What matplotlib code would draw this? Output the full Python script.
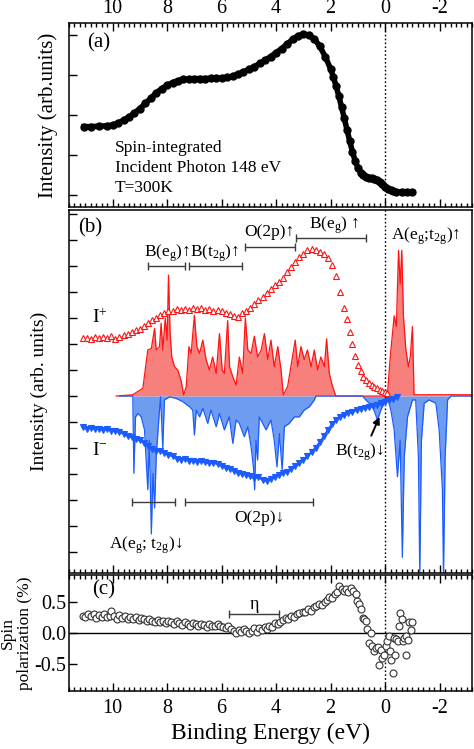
import numpy as np
import matplotlib
matplotlib.use('Agg')
import matplotlib.pyplot as plt
from matplotlib.ticker import MultipleLocator

plt.rcParams['font.family'] = ['Liberation Serif', 'DejaVu Serif']
plt.rcParams['mathtext.fontset'] = 'custom'
plt.rcParams['mathtext.rm'] = 'Liberation Serif'
plt.rcParams['mathtext.it'] = 'Liberation Serif:italic'
plt.rcParams['axes.unicode_minus'] = False

# ---- panel (a): spin-integrated spectrum
e_a = [11.05, 10.8, 10.5, 10.2, 10.0, 9.8, 9.6, 9.4, 9.2, 9.0, 8.8, 8.6, 8.4, 8.2, 8.0,
       7.8, 7.6, 7.4, 7.2, 7.0, 6.8, 6.6, 6.4, 6.2, 6.0, 5.8, 5.6, 5.4, 5.2, 5.0,
       4.8, 4.6, 4.4, 4.2, 4.0, 3.8, 3.6, 3.4, 3.2, 3.0, 2.8, 2.6, 2.4, 2.2, 2.0,
       1.9, 1.8, 1.7, 1.6, 1.5, 1.4, 1.3, 1.2, 1.1, 1.0, 0.9, 0.8, 0.7, 0.6, 0.5,
       0.4, 0.3, 0.2, 0.1, 0.0, -0.1, -0.2, -0.3, -0.4, -0.6, -0.8, -1.0]
i_a = [1.71, 1.71, 1.72, 1.73, 1.75, 1.80, 1.87, 1.95, 2.05, 2.16, 2.29, 2.42, 2.55, 2.66, 2.74,
       2.81, 2.86, 2.89, 2.90, 2.91, 2.91, 2.91, 2.92, 2.92, 2.93, 2.94, 2.97, 3.02, 3.08, 3.14,
       3.21, 3.29, 3.37, 3.46, 3.56, 3.66, 3.77, 3.89, 3.98, 4.02, 4.00, 3.90, 3.72, 3.46, 3.15,
       2.95, 2.72, 2.47, 2.20, 1.92, 1.63, 1.35, 1.08, 0.85, 0.68, 0.56, 0.49, 0.45, 0.43, 0.42,
       0.41, 0.38, 0.33, 0.27, 0.21, 0.16, 0.12, 0.09, 0.08, 0.07, 0.07, 0.07]

# ---- panel (b): spin-resolved spectra I+ / I-
e_up = [11.10, 10.95, 10.80, 10.65, 10.50, 10.35, 10.20, 10.05, 9.90, 9.75, 9.60, 9.45, 9.30,
        9.15, 9.00, 8.85, 8.70, 8.55, 8.40, 8.25, 8.10, 7.95, 7.80, 7.65, 7.50, 7.35, 7.20,
        7.05, 6.90, 6.75, 6.60, 6.45, 6.30, 6.15, 6.00, 5.85, 5.70, 5.55, 5.40, 5.25, 5.10,
        4.95, 4.80, 4.65, 4.50, 4.35, 4.20, 4.05, 3.90, 3.75, 3.60, 3.45, 3.30, 3.15, 3.00,
        2.85, 2.70, 2.55, 2.40, 2.25, 2.10, 1.95, 1.80, 1.65, 1.50, 1.40, 1.30, 1.20, 1.10,
        1.00, 0.90, 0.80, 0.70, 0.60, 0.50, 0.40, 0.30, 0.20, 0.10, 0.00, -0.08]
i_up = [2.22, 2.25, 2.20, 2.26, 2.22, 2.28, 2.24, 2.30, 2.20, 2.27, 2.35, 2.38, 2.45,
        2.52, 2.58, 2.68, 2.80, 2.92, 3.00, 3.10, 3.18, 3.25, 3.28, 3.33, 3.30, 3.36, 3.32,
        3.40, 3.35, 3.38, 3.32, 3.35, 3.28, 3.30, 3.25, 3.20, 3.15, 3.08, 3.05, 3.18, 3.25,
        3.40, 3.55, 3.68, 3.82, 3.95, 4.10, 4.25, 4.40, 4.55, 4.75, 4.95, 5.15, 5.35, 5.45,
        5.60, 5.65, 5.62, 5.55, 5.45, 5.30, 5.05, 4.60, 4.00, 3.40, 2.95, 2.45, 2.00, 1.55,
        1.20, 0.95, 0.75, 0.60, 0.50, 0.42, 0.35, 0.30, 0.25, 0.20, 0.15, 0.12]

e_dn = [11.10, 10.95, 10.80, 10.65, 10.50, 10.35, 10.20, 10.05, 9.90, 9.75, 9.60, 9.45, 9.30,
        9.15, 9.00, 8.85, 8.70, 8.55, 8.40, 8.25, 8.10, 7.95, 7.80, 7.65, 7.50, 7.35, 7.20,
        7.05, 6.90, 6.75, 6.60, 6.45, 6.30, 6.15, 6.00, 5.85, 5.70, 5.55, 5.40, 5.25, 5.10,
        4.95, 4.80, 4.65, 4.50, 4.35, 4.20, 4.05, 3.90, 3.75, 3.60, 3.45, 3.30, 3.15, 3.00,
        2.85, 2.70, 2.55, 2.40, 2.25, 2.10, 1.95, 1.80, 1.65, 1.50, 1.35, 1.20, 1.05, 0.90,
        0.75, 0.60, 0.45, 0.30, 0.15, 0.00, -0.15, -0.30, -0.45]
i_dn = [-1.20, -1.25, -1.22, -1.28, -1.25, -1.30, -1.28, -1.33, -1.35, -1.38, -1.45, -1.52, -1.58,
        -1.65, -1.70, -1.80, -1.92, -2.05, -2.12, -2.10, -2.18, -2.25, -2.32, -2.40, -2.45, -2.42, -2.48,
        -2.50, -2.52, -2.50, -2.55, -2.58, -2.56, -2.62, -2.68, -2.75, -2.80, -2.88, -2.95, -3.00, -3.02,
        -3.08, -3.15, -3.12, -3.22, -3.25, -3.18, -3.10, -3.05, -2.95, -2.90, -2.80, -2.70, -2.58, -2.45,
        -2.30, -2.15, -1.98, -1.78, -1.55, -1.30, -1.08, -0.92, -0.80, -0.72, -0.65, -0.60, -0.55, -0.50,
        -0.45, -0.42, -0.38, -0.33, -0.28, -0.22, -0.15, -0.10, -0.05]

# calculated DOS, spin up (positive) and spin down (negative)
e_dos_up = [9.87, 9.26, 8.89, 8.71, 8.58, 8.46, 8.40, 8.28, 8.22, 8.16, 8.07, 8.00, 7.95, 7.89,
            7.83, 7.73, 7.61, 7.49, 7.39, 7.30, 7.20, 7.12, 7.00, 6.91, 6.81, 6.69, 6.57, 6.45,
            6.33, 6.20, 6.08, 5.98, 5.90, 5.78, 5.71, 5.59, 5.47, 5.35, 5.23, 5.13, 5.04, 4.92,
            4.80, 4.68, 4.55, 4.43, 4.31, 4.19, 4.07, 3.94, 3.82, 3.74, 3.58, 3.46, 3.30, 3.21,
            3.09, 2.97, 2.85, 2.72, 2.60, 2.48, 2.36, 2.23, 2.15, 2.05, 1.93, 1.81, -0.08, -0.14,
            -0.21, -0.33, -0.41, -0.49, -0.55, -0.61, -0.67, -0.76, -0.85, -0.92, -1.00, -1.06, -3.20]
dos_up = [0.0, 0.05, 0.30, 1.77, 1.83, 2.60, 1.77, 1.90, 2.80, 1.77, 3.00, 2.15, 4.65, 2.40,
          1.50, 1.13, 1.00, 0.60, 0.04, 0.36, 1.90, 1.64, 3.10, 1.90, 1.64, 2.15, 1.40, 1.00,
          1.50, 0.87, 2.40, 1.00, 0.87, 2.90, 1.13, 0.74, 0.42, 1.50, 0.87, 3.00, 1.77, 1.64,
          2.30, 1.50, 1.77, 2.40, 1.40, 2.15, 1.13, 1.90, 1.00, 0.04, 0.36, 1.13, 2.15, 1.13,
          1.90, 1.40, 1.77, 1.13, 1.77, 1.00, 1.50, 1.13, 2.20, 0.87, 0.36, 0.0, 0.0, 0.87,
          1.77, 3.08, 2.67, 5.60, 4.30, 5.60, 3.08, 1.77, 1.13, 1.50, 2.67, 0.05, 0.05]

e_dos_dn = [9.74, 9.26, 9.22, 9.16, 9.07, 8.95, 8.83, 8.71, 8.65, 8.58, 8.52, 8.46, 8.40, 8.30,
            8.24, 8.16, 8.10, 7.91, 7.67, 7.42, 7.18, 7.06, 7.00, 6.93, 6.81, 6.69, 6.51, 6.39,
            6.20, 6.08, 5.90, 5.72, 5.59, 5.47, 5.35, 5.17, 5.04, 4.92, 4.83, 4.79, 4.74, 4.68,
            4.62, 4.37, 4.19, 4.07, 3.97, 3.88, 3.78, 3.70, 3.52, 3.33, 3.15, 2.97, 2.78, 2.60,
            2.54, 0.83, 0.71, 0.46, 0.28, 0.16, 0.04, -0.08, -0.21, -0.33, -0.45, -0.55, -0.63,
            -0.70, -0.82, -1.00, -1.12, -1.22, -1.27, -1.33, -1.43, -1.61, -1.86, -1.98, -2.10,
            -2.14, -2.20, -2.29, -2.41, -3.20]
dos_dn = [0.0, 0.0, -2.97, -0.80, -0.67, -0.80, -1.30, -3.60, -1.70, -5.30, -2.97, -4.30, -2.33, -0.80,
          -0.03, -2.00, -0.15, -0.03, -0.09, -0.22, -0.41, -0.54, -1.50, -0.54, -0.80, -0.47, -1.05, -0.54,
          -1.18, -0.67, -1.30, -0.80, -1.82, -0.92, -1.05, -1.56, -1.18, -1.95, -2.78, -3.60, -1.70, -2.46,
          -0.80, -1.30, -0.92, -1.70, -2.72, -1.44, -2.85, -1.18, -1.05, -0.80, -0.80, -0.54, -0.41, -0.15,
          0.0, 0.0, -0.15, -0.41, -0.92, -0.54, -0.28, -0.03, -0.54, -1.30, -3.10, -1.70, -6.20,
          -2.33, -0.80, -0.15, -0.15, -2.33, -6.90, -1.70, -0.28, -0.15, -0.28, -1.30, -3.60,
          -6.90, -2.33, -0.15, 0.0, 0.0]

# ---- panel (c): spin polarization
e_pol = [11.09, 11.0, 10.9, 10.8, 10.7, 10.6, 10.5, 10.4, 10.3, 10.2, 10.1, 10.05, 9.95, 9.85,
         9.75, 9.65, 9.55, 9.45, 9.35, 9.25, 9.15, 9.05, 8.95, 8.85, 8.75, 8.65, 8.55, 8.45,
         8.35, 8.25, 8.15, 8.05, 7.95, 7.85, 7.75, 7.65, 7.55, 7.45, 7.35, 7.25, 7.15, 7.05,
         6.95, 6.85, 6.75, 6.65, 6.55, 6.45, 6.35, 6.25, 6.15, 6.05, 5.95, 5.85, 5.75, 5.65,
         5.55, 5.47, 5.38, 5.28, 5.18, 5.10, 5.00, 4.90, 4.80, 4.70, 4.62, 4.52, 4.42, 4.33,
         4.25, 4.15, 4.05, 3.95, 3.85, 3.75, 3.64, 3.55, 3.45, 3.35, 3.25, 3.15, 3.03, 2.93,
         2.83, 2.73, 2.62, 2.52, 2.42, 2.32, 2.22, 2.13, 2.05, 1.95, 1.85, 1.76, 1.68, 1.60,
         1.52, 1.44, 1.36, 1.26, 1.17, 1.07, 1.02, 0.95, 0.90, 0.83, 0.77, 0.71, 0.65, 0.59,
         0.52, 0.47, 0.40, 0.34, 0.28, 0.22, 0.16, 0.10, 0.04, -0.02, -0.08, -0.14, -0.16,
         -0.22, -0.27, -0.32, -0.37, -0.40, -0.47, -0.51, -0.55, -0.60, -0.64, -0.70, -0.76,
         -0.78, -0.85, -0.87, -0.93, -0.99]
pol = [0.28, 0.25, 0.31, 0.27, 0.30, 0.24, 0.29, 0.26, 0.31, 0.25, 0.28, 0.35, 0.27, 0.22,
       0.29, 0.24, 0.27, 0.23, 0.25, 0.22, 0.26, 0.21, 0.24, 0.22, 0.19, 0.23, 0.20, 0.17,
       0.21, 0.18, 0.20, 0.16, 0.19, 0.17, 0.14, 0.19, 0.16, 0.13, 0.17, 0.15, 0.12, 0.16,
       0.14, 0.11, 0.15, 0.13, 0.10, 0.14, 0.12, 0.11, 0.14, 0.12, 0.10, 0.08, 0.11, 0.06,
       0.03, 0.00, 0.05, 0.02, 0.07, 0.03, 0.00, 0.04, 0.08, 0.02, 0.08, 0.05, 0.10, 0.07,
       0.12, 0.10, 0.16, 0.14, 0.18, 0.21, 0.24, 0.22, 0.27, 0.25, 0.30, 0.32, 0.34, 0.33,
       0.38, 0.36, 0.41, 0.43, 0.47, 0.45, 0.50, 0.53, 0.57, 0.56, 0.62, 0.66, 0.76, 0.70,
       0.68, 0.70, 0.66, 0.72, 0.68, 0.62, 0.52, 0.46, 0.39, 0.24, 0.22, 0.19, 0.06, -0.16,
       0.00, -0.21, -0.29, -0.24, -0.22, -0.52, -0.28, -0.40, -0.35, -0.21, -0.13, -0.05,
       -0.29, -0.44, -0.64, -0.08, -0.36, -0.10, -0.12, 0.12, 0.32, 0.22, -0.13, -0.08,
       -0.04, -0.36, -0.11, 0.17, 0.05, 0.17]

# annotation brackets in panel (b): (left E, right E, level)
brackets_b = [(8.71, 7.36, 5.0), (7.18, 5.25, 5.0), (5.13, 3.31, 5.74), (3.27, 0.71, 6.06),
              (9.28, 7.70, -4.06), (7.36, 2.64, -4.06)]

RED = '#ff1414'
RED_FILL = '#f7807c'
BLUE = '#1c5cff'
BLUE_FILL = '#6e9cee'
GRAY = '#3a3a3a'

fig = plt.figure(figsize=(4.74, 7.49), dpi=100)
ax_a = fig.add_axes([0.1456, 0.7236, 0.851, 0.2457])
ax_b = fig.add_axes([0.1456, 0.235, 0.851, 0.4846])
ax_c = fig.add_axes([0.1456, 0.0774, 0.851, 0.1549])

for ax in (ax_a, ax_b, ax_c):
    ax.set_xlim(11.6, -3.2)
    ax.xaxis.set_major_locator(MultipleLocator(2))
    ax.xaxis.set_minor_locator(MultipleLocator(0.2))
    ax.tick_params(which='both', direction='in', labelsize=14.5, width=1)
    ax.tick_params(which='major', length=6)
    ax.tick_params(which='minor', length=3)
    ax.axvline(0, color='k', ls=(0, (1.2, 1.6)), lw=1)
    for s in ax.spines.values():
        s.set_linewidth(1.1)

# (a)
ax_a.plot(e_a, i_a, color='k', lw=4, marker='o', ms=5)
ax_a.set_ylim(-0.3, 4.3)
ax_a.yaxis.set_major_locator(MultipleLocator(1))
ax_a.yaxis.set_minor_locator(plt.NullLocator())
ax_a.tick_params(axis='x', which='both', top=True, labeltop=True, bottom=True, labelbottom=False)
ax_a.tick_params(axis='y', left=True, labelleft=False, right=False)
ax_a.set_ylabel('Intensity (arb.units)', fontsize=15)
ax_a.yaxis.set_label_coords(-0.028, 0.5)
ax_a.text(10.92, 3.8, '(a)', fontsize=15, ha='left', va='center')
ax_a.text(9.93, 1.175, 'Spin-integrated', fontsize=12.5, ha='left', va='center')
ax_a.text(9.93, 0.675, 'Incident Photon 148 eV', fontsize=12.5, ha='left', va='center')
ax_a.text(9.93, 0.175, 'T=300K', fontsize=12.5, ha='left', va='center')

# (b)
ax_b.fill_between(e_dos_up, 0, dos_up, color=RED_FILL, lw=0)
ax_b.plot(e_dos_up, dos_up, color=RED, lw=0.9)
ax_b.fill_between(e_dos_dn, 0, dos_dn, color=BLUE_FILL, lw=0)
ax_b.plot(e_dos_dn, dos_dn, color=BLUE, lw=0.9)
ax_b.plot(e_up, i_up, ls='none', marker='^', ms=5, mfc='white', mec=RED, mew=0.8)
ax_b.plot(e_dn, i_dn, color=BLUE, lw=1.5, marker='v', ms=5, mfc=BLUE, mec=BLUE, mew=0.8)
ax_b.set_ylim(-6.8, 7.15)
ax_b.yaxis.set_major_locator(MultipleLocator(1))
ax_b.yaxis.set_minor_locator(plt.NullLocator())
ax_b.tick_params(axis='x', which='both', top=False, bottom=True, labelbottom=False)
ax_b.tick_params(axis='y', left=True, labelleft=False, right=False)
ax_b.set_ylabel('Intensity (arb. units)', fontsize=14)
ax_b.yaxis.set_label_coords(-0.052, 0.5)

for lo, hi, lev in brackets_b:
    ax_b.errorbar((lo + hi) / 2, lev, xerr=(lo - hi) / 2, color=GRAY, lw=1, capsize=3, capthick=1)

fs = 12.5
ax_b.text(11.28, 6.46, '(b)', fontsize=15, ha='left', va='center')
ax_b.text(10.77, 3.0, 'I$^{+}$', fontsize=14, ha='left', va='center')
ax_b.text(10.77, -2.08, 'I$^{-}$', fontsize=14, ha='left', va='center')
ax_b.text(8.02, 5.5, 'B(e$_\\mathrm{g}$)↑', fontsize=fs, ha='center', va='center')
ax_b.text(6.26, 5.5, 'B(t$_\\mathrm{2g}$)↑', fontsize=fs, ha='center', va='center')
ax_b.text(4.25, 6.32, 'O(2p)↑', fontsize=fs, ha='center', va='center')
ax_b.text(1.87, 6.58, 'B(e$_\\mathrm{g}$) ↑', fontsize=fs, ha='center', va='center')
ax_b.text(-1.49, 6.13, 'A(e$_\\mathrm{g}$;t$_\\mathrm{2g}$)↑', fontsize=fs, ha='center', va='center')
ax_b.text(4.62, -4.7, 'O(2p)↓', fontsize=fs, ha='center', va='center')
ax_b.text(8.77, -5.73, 'A(e$_\\mathrm{g}$; t$_\\mathrm{2g}$)↓', fontsize=fs, ha='center', va='center')
ax_b.text(0.95, -2.15, 'B(t$_\\mathrm{2g}$)↓', fontsize=fs, ha='center', va='center')
ax_b.annotate('', xy=(0.17, -0.7), xytext=(0.55, -1.62),
              arrowprops=dict(arrowstyle='-|>', color='k', lw=1.4, mutation_scale=10))

# (c)
ax_c.axhline(0, color='k', lw=1)
ax_c.plot(e_pol, pol, ls='none', marker='o', ms=5, mfc='white', mec='#333333', mew=0.8)
ax_c.set_ylim(-0.93, 0.93)
ax_c.yaxis.set_minor_locator(plt.NullLocator())
ax_c.set_yticks([-0.5, 0.0, 0.5])
ax_c.set_yticklabels(['-0.5', '0.0', '0.5'])
ax_c.tick_params(axis='x', which='both', top=True, bottom=True, labelbottom=True, pad=6)
ax_c.tick_params(axis='y', left=True, right=False, pad=2)
ax_c.set_ylabel('Spin\npolarization (%)', fontsize=12.5, linespacing=1.05)
ax_c.yaxis.set_label_coords(-0.09, 0.5)
ax_c.set_xlabel('Binding Energy (eV)', fontsize=17, labelpad=3)
ax_c.errorbar(4.825, 0.31, xerr=0.915, color=GRAY, lw=1, capsize=3, capthick=1)
ax_c.text(4.8, 0.45, 'η', fontsize=13, ha='center', va='center')
ax_c.text(10.77, 0.69, '(c)', fontsize=15, ha='left', va='center')

fig.savefig('out.png', dpi=100)
